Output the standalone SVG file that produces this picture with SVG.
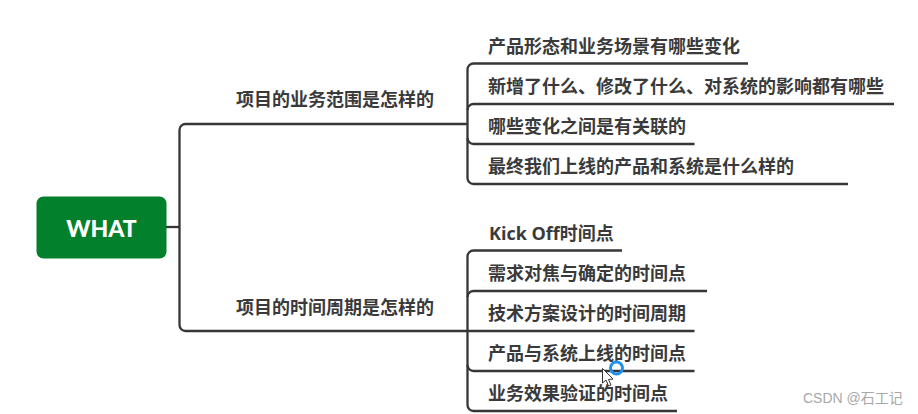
<svg xmlns="http://www.w3.org/2000/svg" width="918" height="414" viewBox="0 0 918 414">
<style>
.c{fill:none;stroke:#363636;stroke-width:2.300}
text{font-family:"Open Sans","Noto Sans CJK SC",sans-serif}
.t{font-size:18px;font-weight:700;fill:#3a3a3a}
</style>
<rect width="918" height="414" fill="#fff"/>
<g id="connectors">
<path class="c" d="M166 227H179.500"/>
<path class="c" d="M467 124H185.500a6 6 0 0 0-6 6V325a6 6 0 0 0 6 6H467"/>
<path class="c" d="M748 63.500H473.500a6 6 0 0 0-6 6V178a6 6 0 0 0 6 6H848"/>
<path class="c" d="M894 104H473.500a6 6 0 0 0-6 6"/>
<path class="c" d="M467.500 138a6 6 0 0 0 6 6H694.500"/>
<path class="c" d="M622 250.500H473.500a6 6 0 0 0-6 6V405a6 6 0 0 0 6 6H677"/>
<path class="c" d="M707 291H473.500a6 6 0 0 0-6 6"/>
<path class="c" d="M467 331H694.500"/>
<path class="c" d="M467.500 365a6 6 0 0 0 6 6H694.500"/>
</g>
<g id="root"><rect x="36.500" y="196.500" width="130" height="62" rx="7" fill="#03802c"/><text x="101.500" y="236.500" text-anchor="middle" font-size="23" font-weight="900" fill="#fff" style="font-family:Lato,sans-serif">WHAT</text></g>
<g id="branch1"><text class="t" x="236" y="106">项目的业务范围是怎样的</text></g>
<g id="branch2"><text class="t" x="236" y="314">项目的时间周期是怎样的</text></g>
<g id="leaf1"><text class="t" x="488" y="53">产品形态和业务场景有哪些变化</text></g>
<g id="leaf2"><text class="t" x="488" y="93">新增了什么、修改了什么、对系统的影响都有哪些</text></g>
<g id="leaf3"><text class="t" x="488" y="133">哪些变化之间是有关联的</text></g>
<g id="leaf4"><text class="t" x="488" y="173">最终我们上线的产品和系统是什么样的</text></g>
<g id="leaf5"><text class="t" x="489" y="240">Kick Off时间点</text></g>
<g id="leaf6"><text class="t" x="488" y="280">需求对焦与确定的时间点</text></g>
<g id="leaf7"><text class="t" x="488" y="320">技术方案设计的时间周期</text></g>
<g id="leaf8"><text class="t" x="488" y="360">产品与系统上线的时间点</text></g>
<g id="leaf9"><text class="t" x="488" y="400">业务效果验证的时间点</text></g>
<circle cx="616.500" cy="368" r="6" fill="none" stroke="#1e90ef" stroke-width="3"/>
<path d="M602.500 368.500V383L606 380L608.500 386L611 385L608.500 379.500L613 379Z" fill="#fff" stroke="#333" stroke-width="1"/>
<text x="803" y="403" font-size="14" fill="#a8a8a8" style="font-family:'Liberation Sans','Noto Sans CJK SC',sans-serif">CSDN @石工记</text>
</svg>
